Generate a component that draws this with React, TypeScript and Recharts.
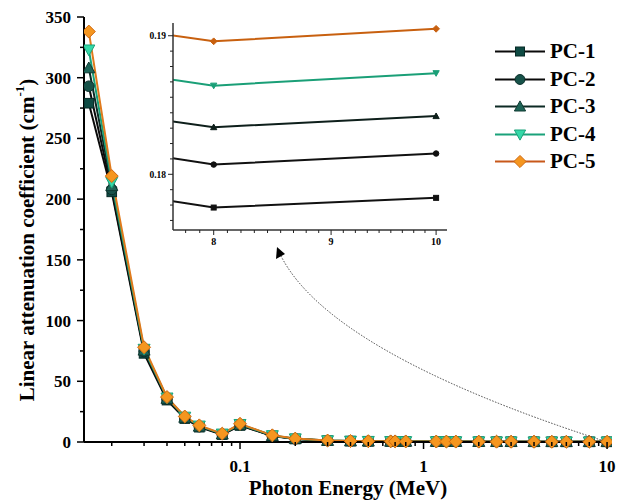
import React from 'react';
import { LineChart, Line, XAxis, YAxis } from 'recharts';

/* ── Linear attenuation coefficient vs photon energy (PC glasses) ── */

const energies = [
  0.015, 0.02, 0.03, 0.04, 0.05, 0.06, 0.08, 0.1, 0.15, 0.2, 0.3, 0.4, 0.5, 0.662, 0.7, 0.8,
  1.173, 1.332, 1.5, 2, 2.5, 3, 4, 5, 6, 8, 10,
];

const pc1 = [
  279, 206, 73, 34.5, 19.3, 12.2, 6.1, 13.6, 4.9, 2.5, 1.1, 0.74, 0.58, 0.47, 0.45, 0.41,
  0.34, 0.32, 0.3, 0.26, 0.235, 0.22, 0.2, 0.188, 0.1808, 0.1776, 0.1783,
];
const pc2 = [
  293, 208, 74.5, 35.2, 19.8, 12.6, 6.3, 14.0, 5.05, 2.58, 1.13, 0.76, 0.6, 0.49, 0.47, 0.425,
  0.35, 0.33, 0.31, 0.268, 0.24, 0.225, 0.205, 0.191, 0.1839, 0.1807, 0.1815,
];
const pc3 = [
  308, 211, 75.5, 35.8, 20.2, 12.9, 6.5, 14.3, 5.2, 2.65, 1.16, 0.78, 0.61, 0.5, 0.48, 0.435,
  0.36, 0.34, 0.32, 0.275, 0.245, 0.23, 0.21, 0.194, 0.1863, 0.1834, 0.1842,
];
const pc4 = [
  323, 214, 76.5, 36.4, 20.6, 13.3, 6.7, 14.6, 5.35, 2.72, 1.19, 0.8, 0.63, 0.51, 0.49, 0.445,
  0.37, 0.35, 0.33, 0.28, 0.25, 0.235, 0.215, 0.198, 0.1894, 0.1864, 0.1873,
];
const pc5 = [
  338, 219, 78, 37, 21, 13.7, 6.9, 15.0, 5.5, 2.8, 1.22, 0.82, 0.65, 0.52, 0.5, 0.455,
  0.38, 0.36, 0.34, 0.29, 0.26, 0.24, 0.22, 0.202, 0.1926, 0.1896, 0.1905,
];

const xMajor = [0.1, 1, 10];
const xTicks = [
  0.02, 0.03, 0.04, 0.05, 0.06, 0.07, 0.08, 0.09, 0.1,
  0.2, 0.3, 0.4, 0.5, 0.6, 0.7, 0.8, 0.9, 1,
  2, 3, 4, 5, 6, 7, 8, 9, 10,
];
const yTicks = [0, 25, 50, 75, 100, 125, 150, 175, 200, 225, 250, 275, 300, 325, 350];

const insetXMajor = [8, 9, 10];
const insetXTicks = [
  7.778, 7.889, 8, 8.111, 8.222, 8.333, 8.444, 8.556, 8.667, 8.778, 8.889,
  9, 9.111, 9.222, 9.333, 9.444, 9.556, 9.667, 9.778, 9.889, 10,
];
const insetYMajor = [0.18, 0.19];
const insetYTicks = [
  0.17667, 0.17778, 0.17889, 0.18, 0.18111, 0.18222, 0.18333, 0.18444, 0.18556, 0.18667,
  0.18778, 0.18889, 0.19,
];

const series = [
  { key: 'pc1', name: 'PC-1', shape: 'square', line: '#0a0a0a', fill: '#0e4a43', edge: '#062a26' },
  { key: 'pc2', name: 'PC-2', shape: 'circle', line: '#0a0a0a', fill: '#175249', edge: '#0a2e29' },
  { key: 'pc3', name: 'PC-3', shape: 'triangle', line: '#0c2a24', fill: '#1d6457', edge: '#0f3a32' },
  { key: 'pc4', name: 'PC-4', shape: 'triangleDown', line: '#1aa27a', fill: '#34d9a8', edge: '#1aa27a' },
  { key: 'pc5', name: 'PC-5', shape: 'diamond', line: '#e07a1c', fill: '#f5961f', edge: '#cf6810' },
];

const insetLine: Record<string, string> = {
  pc1: '#111',
  pc2: '#111',
  pc3: '#0e1f1b',
  pc4: '#1a9f77',
  pc5: '#c8600f',
};

const rows = energies.map((e, i) => ({
  e,
  pc1: pc1[i],
  pc2: pc2[i],
  pc3: pc3[i],
  pc4: pc4[i],
  pc5: pc5[i],
}));
const insetRows = rows.filter((r) => r.e >= 6);

const FONT = '"Liberation Serif", "Times New Roman", serif';

function Marker({ shape, cx, cy, r, fill, stroke }: any) {
  if (cx == null || cy == null) return <g />;
  switch (shape) {
    case 'square':
      return <rect x={cx - r} y={cy - r} width={2 * r} height={2 * r} fill={fill} stroke={stroke} strokeWidth={1} />;
    case 'circle':
      return <circle cx={cx} cy={cy} r={r * 1.1} fill={fill} stroke={stroke} strokeWidth={1} />;
    case 'triangle': {
      const k = r * 1.25;
      return (
        <polygon
          points={`${cx},${cy - k} ${cx - k},${cy + k * 0.8} ${cx + k},${cy + k * 0.8}`}
          fill={fill}
          stroke={stroke}
          strokeWidth={1}
        />
      );
    }
    case 'triangleDown': {
      const k = r * 1.25;
      return (
        <polygon
          points={`${cx},${cy + k} ${cx - k},${cy - k * 0.8} ${cx + k},${cy - k * 0.8}`}
          fill={fill}
          stroke={stroke}
          strokeWidth={1}
        />
      );
    }
    default: {
      const k = r * 1.35;
      return (
        <polygon
          points={`${cx},${cy - k} ${cx + k},${cy} ${cx},${cy + k} ${cx - k},${cy}`}
          fill={fill}
          stroke={stroke}
          strokeWidth={1}
        />
      );
    }
  }
}

const MainXTick = (props: any) => {
  const { x, y, payload } = props;
  const major = xMajor.includes(payload.value);
  return (
    <g>
      <line x1={x} x2={x} y1={y} y2={y + (major ? 7 : 4)} stroke="#000" strokeWidth={1.5} />
      {major && (
        <text x={x} y={y + 30} textAnchor="middle" fontFamily={FONT} fontWeight="bold" fontSize={17} fill="#000">
          {String(payload.value)}
        </text>
      )}
    </g>
  );
};

const MainYTick = (props: any) => {
  const { x, y, payload } = props;
  const major = payload.value % 50 === 0;
  return (
    <g>
      <line x1={x} x2={x - (major ? 7 : 4)} y1={y} y2={y} stroke="#000" strokeWidth={1.5} />
      {major && (
        <text x={x - 13} y={y + 6} textAnchor="end" fontFamily={FONT} fontWeight="bold" fontSize={17} fill="#000">
          {String(payload.value)}
        </text>
      )}
    </g>
  );
};

const InsetXTick = (props: any) => {
  const { x, y, payload } = props;
  const major = insetXMajor.includes(payload.value);
  return (
    <g>
      <line x1={x} x2={x} y1={y} y2={y + (major ? 5 : 3)} stroke="#222" strokeWidth={1} />
      {major && (
        <text x={x} y={y + 15} textAnchor="middle" fontFamily={FONT} fontWeight="bold" fontSize={10} fill="#000">
          {String(payload.value)}
        </text>
      )}
    </g>
  );
};

const InsetYTick = (props: any) => {
  const { x, y, payload } = props;
  const major = insetYMajor.includes(payload.value);
  return (
    <g>
      <line x1={x} x2={x - (major ? 5 : 3)} y1={y} y2={y} stroke="#222" strokeWidth={1} />
      {major && (
        <text x={x - 7} y={y + 3.5} textAnchor="end" fontFamily={FONT} fontWeight="bold" fontSize={9.5} fill="#000">
          {String(payload.value)}
        </text>
      )}
    </g>
  );
};

const YLabel = () => (
  <text
    x={27}
    y={240}
    transform="rotate(-90 27 240)"
    textAnchor="middle"
    dominantBaseline="central"
    fontFamily={FONT}
    fontWeight="bold"
    fontSize={21}
    fill="#000"
  >
    Linear attenuation coefficient (cm
    <tspan fontSize={13} dy={-8}>
      -1
    </tspan>
    <tspan dy={8}>)</tspan>
  </text>
);

function Legend5() {
  return (
    <div style={{ position: 'absolute', left: 492, top: 38, width: 130, pointerEvents: 'none' }}>
      {series.map((s) => (
        <div key={s.key} style={{ display: 'flex', alignItems: 'center', height: 27.5 }}>
          <svg width={56} height={27} style={{ display: 'block' }}>
            <line x1={3} x2={53} y1={13.5} y2={13.5} stroke={s.key === 'pc5' ? '#c8581a' : s.line} strokeWidth={2} />
            <Marker shape={s.shape} cx={28} cy={13.5} r={4.5} fill={s.fill} stroke={s.edge} />
          </svg>
          <span
            style={{
              fontFamily: FONT,
              fontWeight: 'bold',
              fontSize: 21,
              color: '#000',
              marginLeft: 2,
              lineHeight: '27px',
            }}
          >
            {s.name}
          </span>
        </div>
      ))}
    </div>
  );
}

export default function App() {
  return (
    <div style={{ position: 'absolute', left: 0, top: 0, width: 622, height: 503, background: '#fff' }}>
      <LineChart width={622} height={503} data={rows} margin={{ top: 17, right: 10, bottom: 0, left: 0 }}>
        <XAxis
          dataKey="e"
          type="number"
          scale="log"
          domain={[0.01412, 10.64]}
          allowDataOverflow
          ticks={xTicks}
          interval={0}
          tick={<MainXTick />}
          tickLine={false}
          tickSize={0}
          tickMargin={0}
          height={61}
          axisLine={{ stroke: '#000', strokeWidth: 2 }}
          label={{
            value: 'Photon Energy (MeV)',
            position: 'insideBottom',
            offset: 8,
            style: { fontFamily: FONT, fontWeight: 'bold', fontSize: 21, fill: '#000' },
          }}
        />
        <YAxis
          type="number"
          domain={[0, 350]}
          ticks={yTicks}
          interval={0}
          tick={<MainYTick />}
          tickLine={false}
          tickSize={0}
          tickMargin={0}
          width={84}
          axisLine={{ stroke: '#000', strokeWidth: 2 }}
          label={<YLabel />}
        />
        {series.map((s) => (
          <Line
            key={s.key}
            dataKey={s.key}
            name={s.name}
            stroke={s.line}
            strokeWidth={2}
            isAnimationActive={false}
            dot={(p: any) => (
              <Marker
                key={`${s.key}-${p.index}`}
                shape={s.shape}
                cx={p.cx}
                cy={p.cy}
                r={4.8}
                fill={s.fill}
                stroke={s.edge}
              />
            )}
            activeDot={false}
          />
        ))}
      </LineChart>

      <div style={{ position: 'absolute', left: 120, top: 0 }}>
        <LineChart width={340} height={260} data={insetRows} margin={{ top: 23, right: 13, bottom: 5, left: 13 }}>
          <XAxis
            dataKey="e"
            type="number"
            scale="log"
            domain={[7.68, 10.11]}
            allowDataOverflow
            ticks={insetXTicks}
            interval={0}
            tick={<InsetXTick />}
            tickLine={false}
            tickSize={0}
            tickMargin={0}
            height={25}
            axisLine={{ stroke: '#333', strokeWidth: 1.5 }}
          />
          <YAxis
            type="number"
            domain={[0.17598, 0.19092]}
            allowDataOverflow
            ticks={insetYTicks}
            interval={0}
            tick={<InsetYTick />}
            tickLine={false}
            tickSize={0}
            tickMargin={0}
            width={40}
            axisLine={{ stroke: '#333', strokeWidth: 1.5 }}
          />
          {series.map((s) => (
            <Line
              key={s.key}
              dataKey={s.key}
              name={s.name}
              stroke={insetLine[s.key]}
              strokeWidth={2}
              isAnimationActive={false}
              dot={(p: any) => (
                <Marker
                  key={`in-${s.key}-${p.index}`}
                  shape={s.shape}
                  cx={p.cx}
                  cy={p.cy}
                  r={2.5}
                  fill={insetLine[s.key]}
                  stroke={insetLine[s.key]}
                />
              )}
              activeDot={false}
            />
          ))}
        </LineChart>
      </div>

      <Legend5 />

      <svg
        width={622}
        height={503}
        style={{ position: 'absolute', left: 0, top: 0, pointerEvents: 'none' }}
      >
        <path d="M 601 440 Q 330 352 281 256" fill="none" stroke="#444" strokeWidth={1} strokeDasharray="1.5 1.5" />
        <polygon points="277,247 276,259 285,254" fill="#000" />
      </svg>
    </div>
  );
}
